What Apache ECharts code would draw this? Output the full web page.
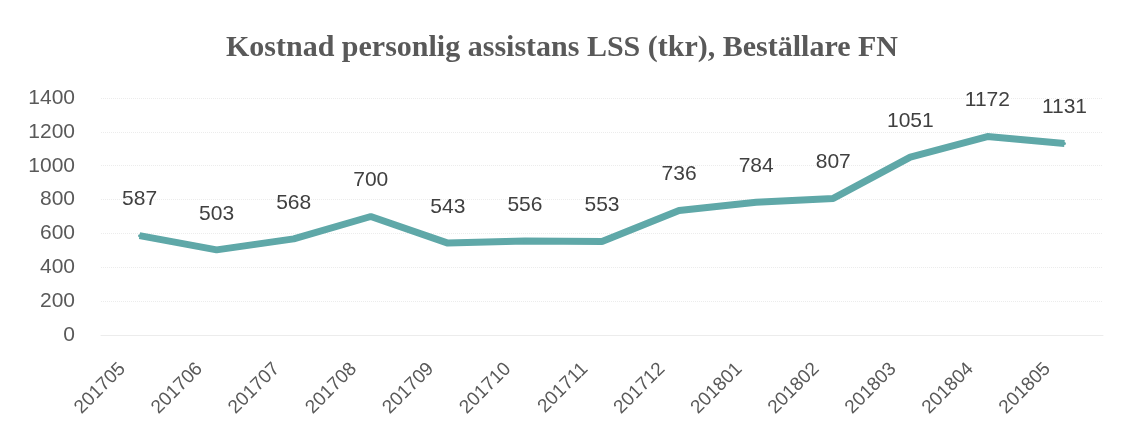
<!DOCTYPE html>
<html><head><meta charset="utf-8">
<script src="https://cdn.jsdelivr.net/npm/echarts@6/dist/echarts.min.js"></script>
<style>html,body{margin:0;padding:0;background:#fff}#c{width:1124px;height:445px}</style>
</head><body><div id="c"></div>
<script>
const titleText = 'Kostnad personlig assistans LSS (tkr), Beställare FN';
const categories = ['201705','201706','201707','201708','201709','201710','201711','201712','201801','201802','201803','201804','201805'];
const values = [587,503,568,700,543,556,553,736,784,807,1051,1172,1131];
const yTicks = [0,200,400,600,800,1000,1200,1400];

const chart = echarts.init(document.getElementById('c'));
chart.setOption({
  animation:false,
  backgroundColor:'#fff',
  title:{text:titleText,left:'center',top:28,textStyle:{fontFamily:'Liberation Serif',fontWeight:'bold',fontSize:30,color:'#595959'}},
  grid:{left:101,right:21,top:98,bottom:110},
  xAxis:{type:'category',data:categories,boundaryGap:true,
    axisLine:{show:true,lineStyle:{color:'#ececec'}},axisTick:{show:false},
    axisLabel:{rotate:45,fontFamily:'Liberation Sans',fontSize:19,color:'#595959',margin:14,padding:[0,24,0,0]}},
  yAxis:{type:'value',min:yTicks[0],max:yTicks[yTicks.length-1],interval:200,
    axisLine:{show:false},axisTick:{show:false},
    splitLine:{lineStyle:{color:'#ececec',type:'dotted'}},
    axisLabel:{fontFamily:'Liberation Sans',fontSize:21,color:'#595959',margin:26,formatter:v=>String(v)}},
  series:[{type:'line',data:values,symbol:'circle',symbolSize:3,showSymbol:true,
    itemStyle:{color:'#5fa8a8'},
    lineStyle:{color:'#5fa8a8',width:7},
    label:{show:true,position:'top',distance:24,fontFamily:'Liberation Sans',fontSize:21,color:'#404040'}}]
});
</script></body></html>
